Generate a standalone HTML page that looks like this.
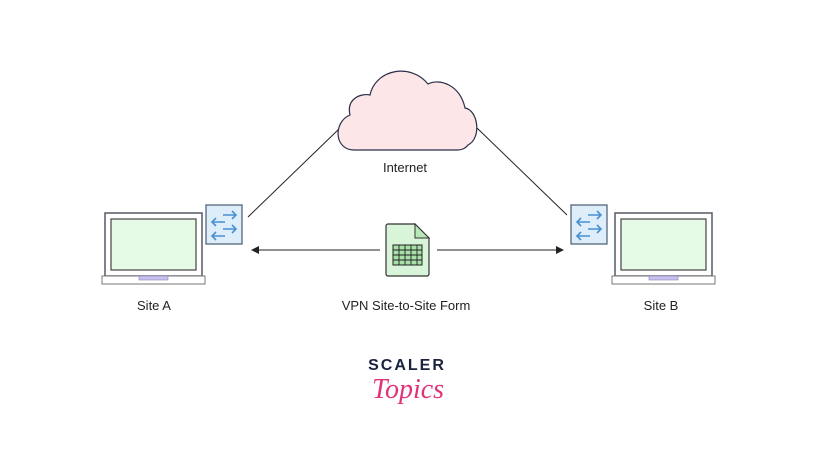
<!DOCTYPE html><html><head><style>body{margin:0;background:#fff}svg{display:block}</style></head><body>
<svg width="817" height="460" viewBox="0 0 817 460" xmlns="http://www.w3.org/2000/svg" font-family="Liberation Sans, sans-serif">
<defs>
<g id="lap">
<rect x="0" y="0" width="97" height="63" fill="#fff" stroke="#555a66" stroke-width="1.5"/>
<rect x="6" y="6" width="85" height="51" fill="#e6fbe6" stroke="#444" stroke-width="1.2"/>
<rect x="-3" y="63" width="103" height="8" fill="#fff" stroke="#777" stroke-width="1"/>
<rect x="34" y="63" width="29" height="4" fill="#c8c0ee" stroke="#8880bb" stroke-width="0.6"/>
</g>
<g id="rt">
<rect x="0" y="0" width="36" height="39" fill="#ddeefa" stroke="#4a5a70" stroke-width="1.2"/>
<g fill="none" stroke="#4a90d0" stroke-width="1.6">
<path d="M17 10h13M26 6l4 4-4 4"/><path d="M19 17H6M10 13l-4 4 4 4"/>
<path d="M17 24h13M26 20l4 4-4 4"/><path d="M19 31H6M10 27l-4 4 4 4"/>
</g></g>
</defs>
<use href="#lap" x="105" y="213"/>
<use href="#lap" x="615" y="213"/>
<use href="#rt" x="206" y="205"/>
<use href="#rt" x="571" y="205"/>
<line x1="248" y1="217" x2="340" y2="128" stroke="#222" stroke-width="1"/>
<line x1="477" y1="128" x2="567" y2="215" stroke="#222" stroke-width="1"/>
<path d="M354 150 C334 150 333 122 350 115 C346 98 362 93 370 95 C375 70 410 62 428 84 C440 78 460 85 465 108 C478 110 482 138 468 145 C466 148 462 150 458 150 Z" fill="#fde6e8" stroke="#2b3048" stroke-width="1.2"/>
<text x="405" y="172" font-size="13" text-anchor="middle" fill="#222">Internet</text>
<line x1="258" y1="250" x2="380" y2="250" stroke="#222" stroke-width="1"/>
<path d="M251 250l8-4v8z" fill="#222"/>
<line x1="437" y1="250" x2="557" y2="250" stroke="#222" stroke-width="1"/>
<path d="M564 250l-8-4v8z" fill="#222"/>
<path d="M388 224h27l14 14v36a2 2 0 0 1-2 2h-39a2 2 0 0 1-2-2v-48a2 2 0 0 1 2-2z" fill="#d9f5d9" stroke="#333" stroke-width="1.2"/>
<path d="M415 224v14h14z" fill="#b8e8b8" stroke="#333" stroke-width="1"/>
<rect x="393" y="245" width="29" height="20" fill="#a8e0a8" stroke="#222" stroke-width="1"/>
<g stroke="#222" stroke-width="0.9"><line x1="393" y1="250" x2="422" y2="250"/><line x1="393" y1="255" x2="422" y2="255"/><line x1="393" y1="260" x2="422" y2="260"/>
<line x1="399" y1="245" x2="399" y2="265"/><line x1="405" y1="245" x2="405" y2="265"/><line x1="411" y1="245" x2="411" y2="265"/><line x1="417" y1="245" x2="417" y2="265"/></g>
<text x="154" y="310" font-size="13" text-anchor="middle" fill="#222">Site A</text>
<text x="406" y="310" font-size="13" text-anchor="middle" fill="#222">VPN Site-to-Site Form</text>
<text x="661" y="310" font-size="13" text-anchor="middle" fill="#222">Site B</text>
<text x="407" y="370" font-size="16" font-weight="bold" text-anchor="middle" fill="#1a2240" letter-spacing="2">SCALER</text>
<text x="408" y="398" font-size="28" font-style="italic" font-family="Liberation Serif, serif" text-anchor="middle" fill="#e0337a">Topics</text>
</svg>
</body></html>
